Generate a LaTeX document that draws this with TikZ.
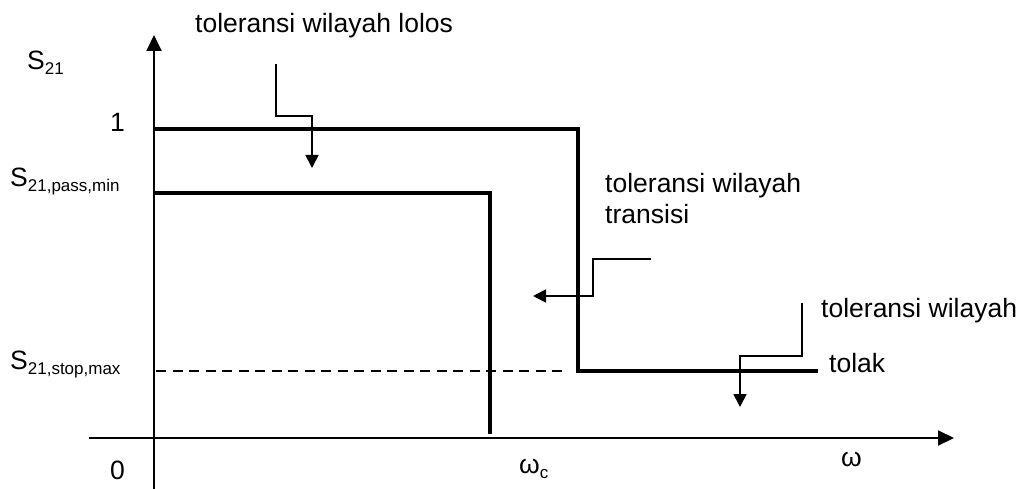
\documentclass[tikz,border=0pt]{standalone}
\usepackage{fontspec}
\setmainfont{Liberation Sans}
\usetikzlibrary{arrows.meta}
\newcommand\lowsub[1]{\raisebox{-5pt}{\fontsize{17}{19}\selectfont #1}}
\begin{document}
\begin{tikzpicture}[x=1pt,y=-1pt,
  lbl/.style={anchor=base west,inner sep=0pt,font=\fontsize{26.5}{31}\selectfont},
  axis/.style={line width=2pt,-{Triangle[length=16pt,width=15pt]}},
  curve/.style={line width=4pt},
  note/.style={line width=1.7pt,-{Triangle[length=13pt,width=13pt]}}]
\useasboundingbox (0,0) rectangle (1022,489);
% axes
\coordinate (ybot) at (154,489);
\coordinate (ytop) at (154,35);
\coordinate (xleft) at (89,438);
\coordinate (xright) at (954,438);
\draw[axis] (ybot) -- (ytop);
\draw[axis] (xleft) -- (xright);
% tolerance lines
\coordinate (u0) at (154,129);
\coordinate (u1) at (578,129);
\coordinate (u2) at (578,371);
\coordinate (u3) at (818,371);
\draw[curve] (u0) -- (u1) -- (u2) -- (u3);
\coordinate (p0) at (154,193);
\coordinate (p1) at (490,193);
\coordinate (p2) at (490,434);
\draw[curve] (p0) -- (p1) -- (p2);
\coordinate (d0) at (156,371);
\coordinate (d1) at (567,371);
\draw[line width=1.5pt,dash pattern=on 10pt off 6.5pt] (d0) -- (d1);
% labels
\node[lbl] (lolos) at (195,33) {toleransi wilayah lolos};
\node[lbl] (s21) at (27,70) {S\lowsub{21}};
\node[lbl] (one) at (110,132) {1};
\node[lbl] (spass) at (10,187) {S\lowsub{21,pass,min}};
\node[lbl] (sstop) at (10,369) {S\lowsub{21,stop,max}};
\node[lbl] (zero) at (110,479) {0};
\node[lbl] (wc) at (519,473) {ω\lowsub{c}};
\node[lbl] (w) at (841,466) {ω};
\node[lbl] (trans1) at (605,193) {toleransi wilayah};
\node[lbl] (trans2) at (605,223) {transisi};
\node[lbl] (tol) at (821,317) {toleransi wilayah};
\node[lbl] (tolak) at (829,372) {tolak};
% pointer arrows
\coordinate (a0) at (276,64);
\coordinate (a1) at (276,116);
\coordinate (a2) at (312,116);
\coordinate (a3) at (312,168);
\draw[note] (a0) -- (a1) -- (a2) -- (a3);
\coordinate (b0) at (651,259);
\coordinate (b1) at (593,259);
\coordinate (b2) at (593,296);
\coordinate (b3) at (533,296);
\draw[note] (b0) -- (b1) -- (b2) -- (b3);
\coordinate (c0) at (802,303);
\coordinate (c1) at (802,356);
\coordinate (c2) at (740,356);
\coordinate (c3) at (740,407);
\draw[note] (c0) -- (c1) -- (c2) -- (c3);
\end{tikzpicture}
\end{document}
